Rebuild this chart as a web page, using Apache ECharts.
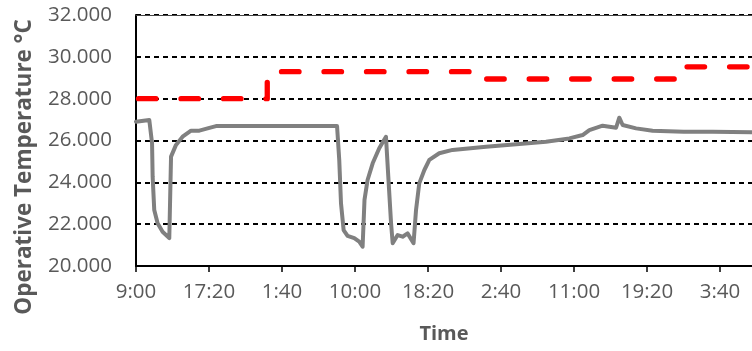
<!DOCTYPE html>
<html>
<head>
<meta charset="utf-8">
<script src="https://cdn.jsdelivr.net/npm/echarts@6/dist/echarts.min.js"></script>
<style>
  html, body { margin: 0; padding: 0; background: #fff; }
  #main { width: 752px; height: 351px; }
</style>
</head>
<body>
<div id="main"></div>
<script>
// minutes since 9:00 on day 1
var tempMinutes = [0, 91, 103, 110, 114, 125, 148, 182, 228, 233, 240, 274, 319, 377, 434, 490, 548,
    1377, 1392, 1404, 1422, 1449, 1495, 1529, 1552, 1565, 1586, 1621, 1666, 1712,
    1728, 1747, 1758, 1792, 1826, 1860, 1901, 1918, 1940, 1975, 2009, 2077, 2168,
    2397, 2625, 2808, 2968, 3059, 3105, 3196, 3288, 3310, 3333, 3425, 3538, 3751, 3949, 4219];
var tempValues = [26.90, 26.98, 27.06, 25.87, 24.27, 22.68, 22.04, 21.64, 21.33, 21.40, 25.23, 25.79, 26.18, 26.47, 26.47, 26.58, 26.69,
    26.69, 25.07, 23.00, 21.72, 21.44, 21.33, 21.16, 20.92, 23.16, 24.11, 24.91, 25.63, 26.18,
    24.27, 22.04, 21.09, 21.48, 21.40, 21.56, 21.09, 22.68, 23.95, 24.59, 25.07, 25.39, 25.55,
    25.70, 25.83, 25.94, 26.10, 26.26, 26.50, 26.71, 26.61, 27.09, 26.74, 26.58, 26.47, 26.42, 26.42, 26.39];

// upper limit (red dashed)
var limitMinutes = [0, 899, 899, 2338, 2338, 3735, 3735, 4219];
var limitValues = [28.0, 28.0, 29.29, 29.29, 28.94, 28.94, 29.52, 29.52];

var xTickLabels = ['9:00', '17:20', '1:40', '10:00', '18:20', '2:40', '11:00', '19:20', '3:40'];
var xTickStep = 500;
var xMax = 4219;

function pairs(xs, ys) {
    var out = [];
    for (var i = 0; i < xs.length; i++) out.push([xs[i], ys[i]]);
    return out;
}
var tickValues = xTickLabels.map(function (l, i) { return i * xTickStep; });

var chart = echarts.init(document.getElementById('main'));
var fontFam = 'Open Sans';
var option = {
    animation: false,
    backgroundColor: '#ffffff',
    grid: { left: 136, right: 0, top: 15, bottom: 85 },
    graphic: [{
        type: 'text',
        x: 25,
        y: 167,
        rotation: Math.PI / 2,
        style: {
            text: 'Operative Temperature °C',
            fill: '#595959',
            font: 'bold 22.5px "Open Sans"',
            align: 'center',
            verticalAlign: 'middle'
        }
    }],
    xAxis: [
        {
            type: 'value',
            min: 0,
            max: xMax,
            interval: xTickStep,
            name: 'Time',
            nameLocation: 'middle',
            nameGap: 58,
            nameTextStyle: { color: '#595959', fontSize: 20, fontWeight: 'bold', fontFamily: fontFam },
            axisLine: { lineStyle: { color: '#000', width: 2 } },
            axisTick: { show: true, length: 6, customValues: tickValues, lineStyle: { color: '#000', width: 1.5 } },
            axisLabel: {
                customValues: tickValues,
                margin: 16,
                color: '#595959', fontSize: 20.5, fontFamily: fontFam,
                formatter: function (v) { return xTickLabels[Math.round(v / xTickStep)] || ''; }
            },
            splitLine: { show: false }
        },
        {
            type: 'value',
            position: 'top',
            min: 0,
            max: xMax,
            axisLine: { show: true, lineStyle: { color: '#444', width: 1 } },
            axisTick: { show: false },
            axisLabel: { show: false },
            splitLine: { show: false }
        }
    ],
    yAxis: {
        type: 'value',
        min: 20,
        max: 32,
        interval: 2,
        axisLine: { show: true, lineStyle: { color: '#000', width: 2 } },
        axisTick: { show: false },
        axisLabel: {
            margin: 24,
            color: '#595959', fontSize: 20.5, fontFamily: fontFam,
            formatter: function (v) { return v.toFixed(3); }
        },
        splitLine: { show: true, lineStyle: { color: '#000', width: 1.8, type: [5, 4] } }
    },
    series: [
        {
            name: 'Operative temperature',
            type: 'line',
            showSymbol: false,
            symbol: 'none',
            data: pairs(tempMinutes, tempValues),
            lineStyle: { color: '#808080', width: 4, join: 'round', cap: 'round' },
            z: 3
        },
        {
            name: 'Limit',
            type: 'line',
            showSymbol: false,
            symbol: 'none',
            data: pairs(limitMinutes, limitValues),
            lineStyle: { color: '#ff0000', width: 5.3, type: [17.5, 25], dashOffset: 40, cap: 'round', join: 'round' },
            z: 4
        }
    ]
};
chart.setOption(option);
</script>
</body>
</html>
